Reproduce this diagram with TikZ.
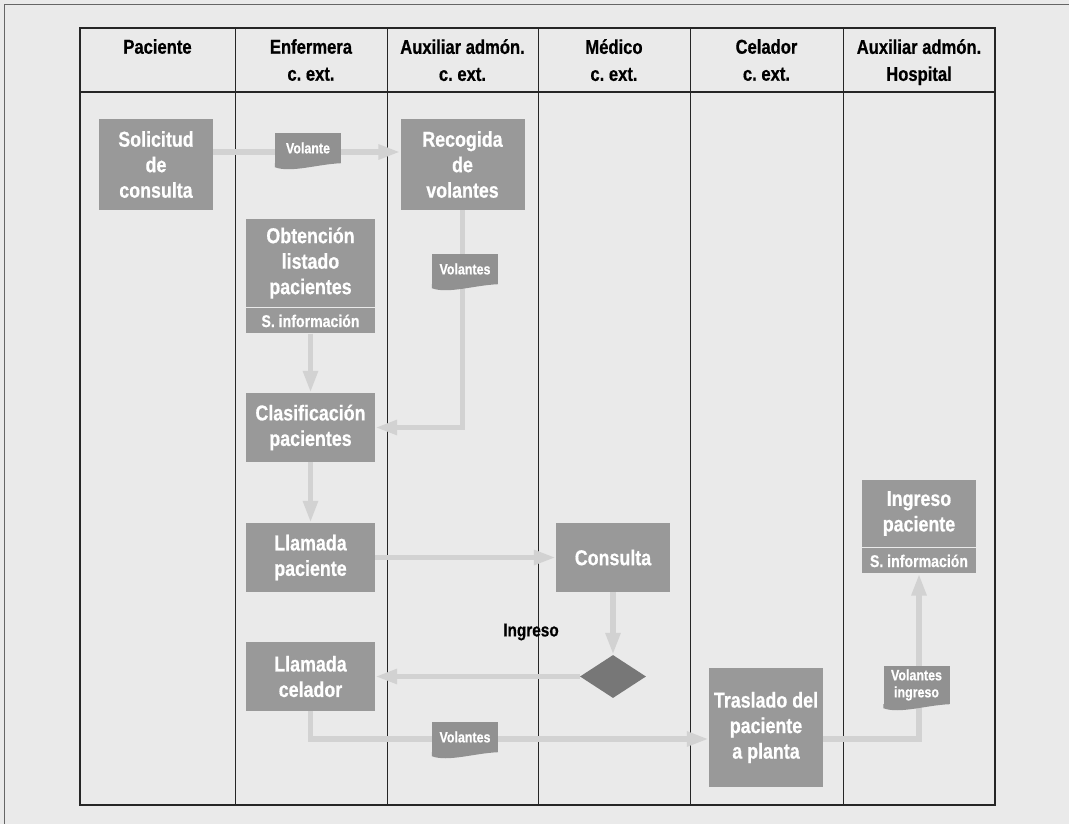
\documentclass[tikz,border=0pt]{standalone}
\usepackage{fontspec}
\setmainfont{Liberation Sans}[FakeStretch=0.83,BoldFeatures={FakeBold=0.6}]
\usetikzlibrary{arrows.meta,shapes.geometric,positioning}
\frenchspacing

\definecolor{paper}{HTML}{EAEAEA}
\definecolor{boxgray}{HTML}{999999}
\definecolor{docgray}{HTML}{919191}
\definecolor{flowgray}{HTML}{D2D2D2}
\definecolor{diagray}{HTML}{777777}

\newcommand*{\xl}{80}
\newcommand*{\xr}{995}
\newcommand*{\yt}{28}
\newcommand*{\yh}{92}
\newcommand*{\yb}{805}

\begin{document}
\begin{tikzpicture}
[
	x=1pt, y=-1pt,
	task/.style={rectangle,fill=boxgray,text=white,align=center,inner sep=0pt,
		font=\fontsize{21.5}{25.5}\selectfont\bfseries,minimum width=114pt,minimum height=69pt},
	sysinfo/.style={rectangle,fill=boxgray,text=white,inner sep=0pt,
		font=\fontsize{17}{20}\selectfont\bfseries,minimum height=25pt},
	doc/.style={rectangle,fill=docgray,text=white,align=center,inner sep=0pt,
		font=\fontsize{15}{17}\selectfont\bfseries,minimum width=66pt,minimum height=30pt},
	head/.style={align=center,anchor=north,inner sep=0pt,
		font=\fontsize{20}{27}\selectfont\bfseries,execute at begin node={\vphantom{É}}},
	flow/.style={draw=flowgray,line width=5.5pt,-{Triangle[length=22pt,width=14pt]}}
]

	% page
	\fill[paper] (0,0) rectangle (1069,824);
	\useasboundingbox (0,0) rectangle (1069,824);
	\draw[line width=1.5pt,black!60] (4.5,824) -- (4.5,4.5) -- (1069,4.5);

	% lanes
	\draw[line width=1.2pt,black!85] (\xl,\yt) rectangle (\xr,\yb);
	\draw[line width=1.2pt,black!85] (\xl,\yh) -- (\xr,\yh);
	\foreach \x in {235,387,538,690,843} {
		\draw[line width=1pt,black!85] (\x,\yt) -- (\x,\yb);
	}

	% lane titles
	\foreach \x/\t [count=\i] in {157.5/{Paciente\\\mbox{}}, 311/{Enfermera\\c. ext.},
		462.5/{Auxiliar admón.\\c. ext.}, 614/{Médico\\c. ext.},
		766.5/{Celador\\c. ext.}, 919/{Auxiliar admón.\\Hospital}} {
		\node[head] (lane\i) at (\x,39) {\t};
	}

	% tasks
	\node[task,minimum height=91pt] (sol) at (156,164.5) {Solicitud\\de\\consulta};
	\node[task,minimum width=124pt,minimum height=91pt] (rec) at (462.5,164.5) {Recogida\\de\\volantes};
	\node[task,minimum width=129pt,minimum height=88pt] (obt) at (310.5,263) {Obtención\\listado\\pacientes};
	\node[sysinfo,minimum width=129pt,below=1pt of obt] (obtsi) {S. información};
	\node[task,minimum width=129pt] (cla) at (310.5,427.5) {Clasificación\\pacientes};
	\node[task,minimum width=129pt] (llp) at (310.5,557.5) {Llamada\\paciente};
	\node[task] (con) at (613,557.5) {Consulta};
	\node[diamond,fill=diagray,inner sep=0pt,minimum width=66pt,minimum height=43pt] (dec) at (613,676.5) {};
	\node[task,minimum width=129pt] (llc) at (310.5,676.5) {Llamada\\celador};
	\node[task,minimum height=119pt] (tra) at (766,727.5) {Traslado del\\paciente\\a planta};
	\node[task,minimum height=67pt] (ing) at (919,513.5) {Ingreso\\paciente};
	\node[sysinfo,minimum width=114pt,below=1pt of ing] (ingsi) {S. información};

	% decision label
	\node[inner sep=0pt,font=\fontsize{18.5}{20}\selectfont\bfseries] (ingl) at (531,632) {Ingreso};

	% flows
	\draw[flow] ([yshift=12.5pt]sol.east) -- ([yshift=12.5pt]rec.west);
	\draw[flow] (rec.south) |- (cla.east);
	\draw[flow] (obtsi.south) -- (cla.north);
	\draw[flow] (cla.south) -- (llp.north);
	\draw[flow] (llp.east) -- (con.west);
	\draw[flow] (con.south) -- (dec.north);
	\draw[flow] (dec.west) -- (llc.east);
	\draw[flow] (llc.south) |- ([yshift=-11.5pt]tra.west);
	\draw[flow] ([yshift=-11.5pt]tra.east) -| (ingsi.south);

	% documents
	\node[doc] (volA) at (308,148) {Volante};
	\node[doc] (volB) at (465,269) {Volantes};
	\node[doc] (volC) at (465,737) {Volantes};
	\node[doc,minimum height=38pt] (volD) at (916.5,685) {Volantes\\ingreso};
	\foreach \d in {volA,volB,volC,volD} {
		\fill[docgray] (\d.south west) -- ([yshift=-4pt]\d.south west)
			.. controls ([xshift=16pt,yshift=-10pt]\d.south west) and ([xshift=-24pt,yshift=-1pt]\d.south east)
			.. (\d.south east) -- cycle;
	}

\end{tikzpicture}
\end{document}
